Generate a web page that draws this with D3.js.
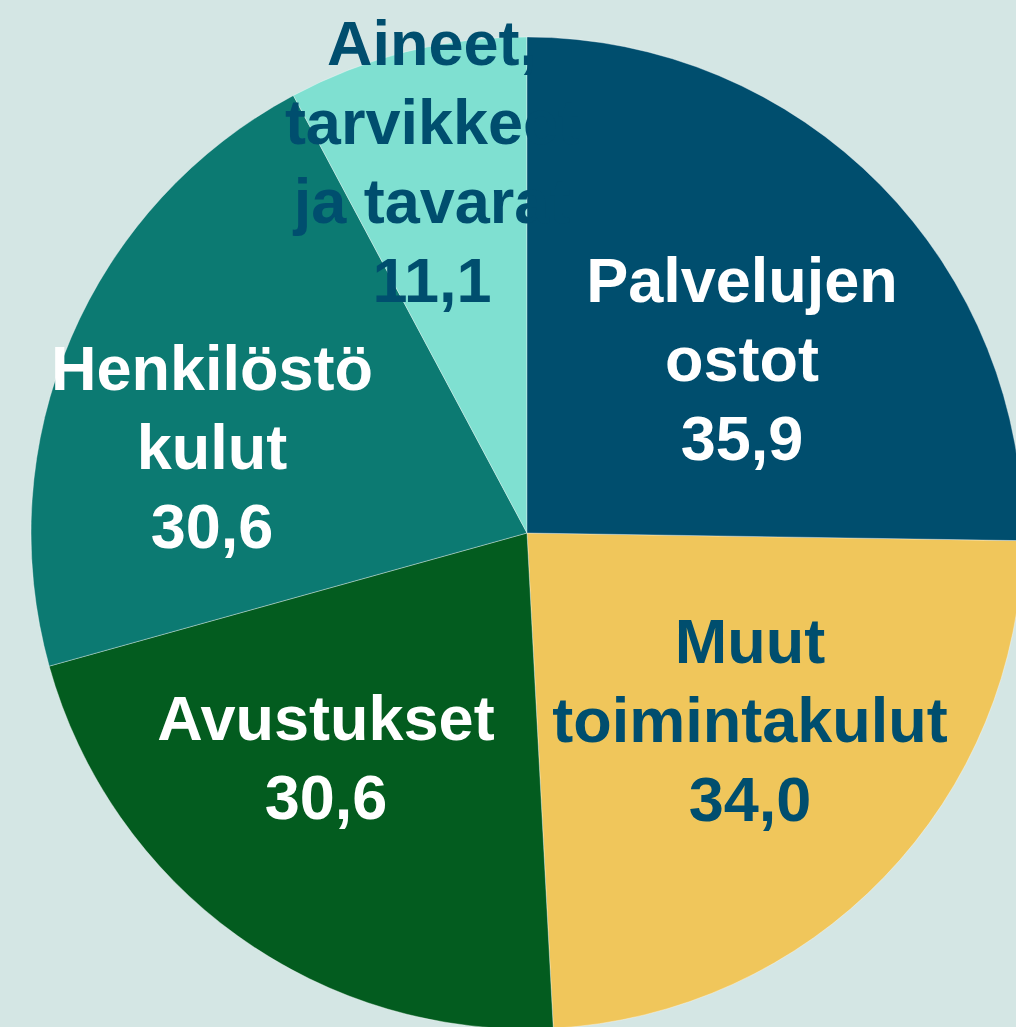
<!DOCTYPE html>
<html>
<head>
<meta charset="utf-8">
<script src="https://cdn.jsdelivr.net/npm/d3@7/dist/d3.min.js"></script>
<style>
  html, body { margin: 0; padding: 0; background: #d4e6e4; }
  svg { display: block; }
</style>
</head>
<body>
<svg id="chart" width="1016" height="1027"></svg>
<script>
// ---- data ----
const categories = ["Palvelujen\nostot", "Muut\ntoimintakulut", "Avustukset", "Henkilöstö\nkulut", "Aineet,\ntarvikkeet\nja tavarat"];
const values = [35.9, 34.0, 30.6, 30.6, 11.1];

// ---- styles / layout (not data) ----
const colors = ["#004e6e", "#f0c65b", "#035c1f", "#0c7a72", "#7fe0d1"];
const textColors = ["#ffffff", "#004e6e", "#ffffff", "#ffffff", "#004e6e"];
// label anchor: centre x and first baseline y
const labelAnchors = [[742, 302], [750, 663], [326, 740], [212, 390], [432, 65]];
const W = 1016, H = 1027;
const cx = 527, cy = 533, R = 496;
const fontSize = 63, lineStep = 79;

const svg = d3.select("#chart");
svg.append("rect").attr("width", W).attr("height", H).attr("fill", "#d4e6e4");

const pie = d3.pie().sort(null).value(d => d.value).startAngle(0).endAngle(2 * Math.PI);
const arc = d3.arc().innerRadius(0).outerRadius(R);
const rows = categories.map((c, i) => ({ name: c, value: values[i], i }));
const arcs = pie(rows);

const g = svg.append("g").attr("transform", `translate(${cx},${cy})`);
const fmt = v => v.toFixed(1).replace(".", ",");

function drawSlice(d) {
  g.append("path")
    .attr("d", arc(d))
    .attr("fill", colors[d.data.i])
    .attr("stroke", "rgba(255,255,255,0.35)")
    .attr("stroke-width", 1);
}
function drawLabel(d) {
  const i = d.data.i;
  const lines = d.data.name.split("\n").concat([fmt(d.data.value)]);
  const t = svg.append("text")
    .attr("text-anchor", "middle")
    .attr("font-family", "'Liberation Sans', Arial, sans-serif")
    .attr("font-weight", "bold")
    .attr("font-size", fontSize)
    .attr("fill", textColors[i]);
  lines.forEach((ln, k) => {
    t.append("tspan")
      .attr("x", labelAnchors[i][0])
      .attr("y", labelAnchors[i][1] + k * lineStep)
      .text(ln);
  });
}

// draw all slices except the first, their labels, then the first slice on top
arcs.slice(1).forEach(drawSlice);
arcs.slice(1).forEach(drawLabel);
drawSlice(arcs[0]);
drawLabel(arcs[0]);
</script>
</body>
</html>
